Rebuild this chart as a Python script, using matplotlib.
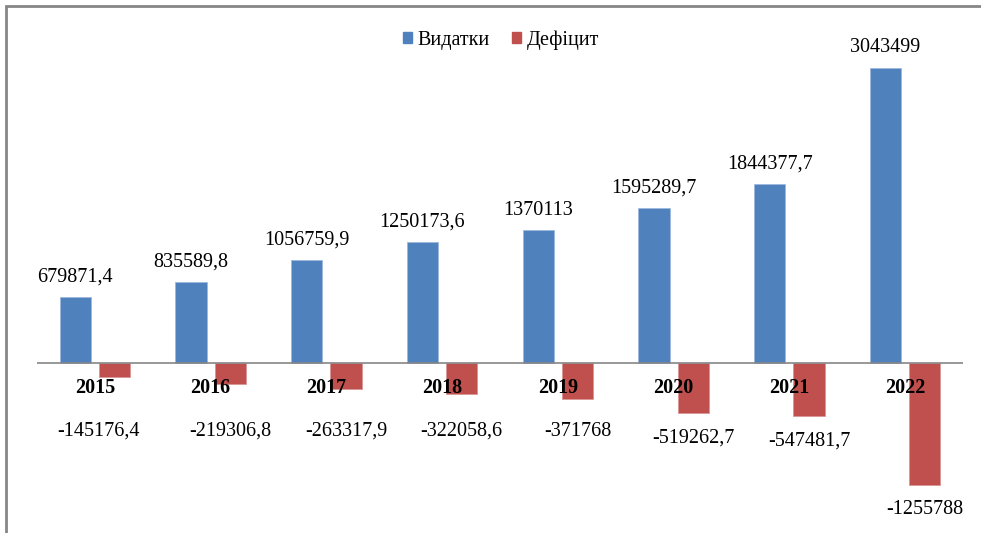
import matplotlib.pyplot as plt
from matplotlib.patches import Patch, Rectangle

years = ["2015", "2016", "2017", "2018", "2019", "2020", "2021", "2022"]
spending = [679871.4, 835589.8, 1056759.9, 1250173.6, 1370113, 1595289.7, 1844377.7, 3043499]
deficit = [-145176.4, -219306.8, -263317.9, -322058.6, -371768, -519262.7, -547481.7, -1255788]
spending_txt = ["679871,4", "835589,8", "1056759,9", "1250173,6", "1370113", "1595289,7", "1844377,7", "3043499"]
deficit_txt = ["-145176,4", "-219306,8", "-263317,9", "-322058,6", "-371768", "-519262,7", "-547481,7", "-1255788"]

blue = "#4F81BD"
red = "#C0504D"
grey = "#868686"
fs = 14.5

plt.rcParams["font.family"] = ["Liberation Serif", "DejaVu Serif"]

W, H = 981, 533
fig = plt.figure(figsize=(W / 100, H / 100), dpi=100)

# plot area in pixels: left 37, right 963, top 20, bottom 525
ax = fig.add_axes([37 / W, 1 - 525 / H, (963 - 37) / W, (525 - 20) / H])
ymax, ymin = 3.536e6, -1.670e6
ax.set_xlim(-0.5, 7.5)
ax.set_ylim(ymin, ymax)
ax.axis("off")
upp = (ymax - ymin) / 505.0  # data units per pixel

x = list(range(len(years)))
w = 0.27
off = 0.17
ax.bar([i - off for i in x], spending, width=w, color=blue, edgecolor="#9DB9DD", linewidth=0.6, zorder=2)
ax.bar([i + off for i in x], deficit, width=w, color=red, edgecolor="#D99694", linewidth=0.6, zorder=2)
ax.axhline(0, color=grey, lw=1.2, zorder=3)

for i in x:
    ax.text(i - off, spending[i] + 20 * upp, spending_txt[i], ha="center", va="center",
            fontsize=fs, color="black")
    ly = min(deficit[i] - 25 * upp, -68 * upp)
    lx = i + off - (0.14 if i == 0 else 0)
    ax.text(lx, ly, deficit_txt[i], ha="center", va="center", fontsize=fs, color="black")
    ax.text(i, -25 * upp, years[i], ha="center", va="center", fontsize=fs,
            fontweight="bold", color="black", zorder=4)

handles = [Patch(color=blue, label="Видатки"), Patch(color=red, label="Дефіцит")]
fig.legend(handles=handles, loc="center", bbox_to_anchor=(501 / W, 1 - 40 / H), ncol=2,
           frameon=False, fontsize=fs, handlelength=0.45, handleheight=0.45,
           handletextpad=0.3, columnspacing=1.1)

# outer frame (right and bottom edges are cut off in the original)
fig.patches.append(Rectangle((6 / W, -0.05), 1.2, 1 - 6 / H + 0.05, transform=fig.transFigure,
                             fill=False, edgecolor=grey, linewidth=2))

fig.savefig("out.png", dpi=100)
